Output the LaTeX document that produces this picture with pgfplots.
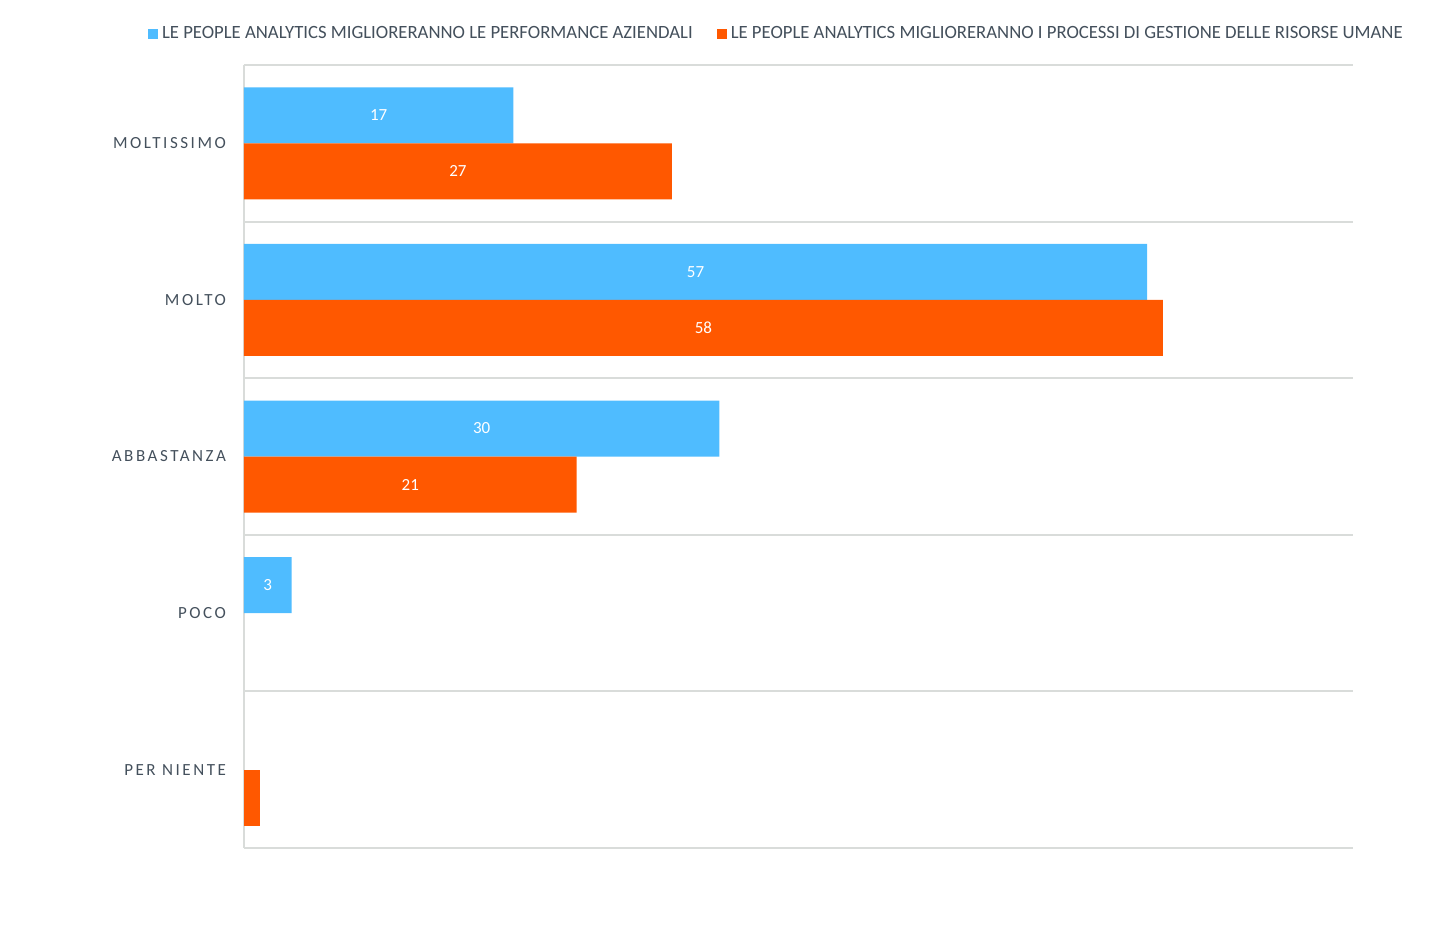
\documentclass[border=0pt]{standalone}
\usepackage{pgfplots}
\pgfplotsset{compat=1.18}
\usepackage{fontspec}
\setmainfont{Carlito}
\newfontfamily\spaced[LetterSpace=15]{Carlito}
\definecolor{cblue}{HTML}{4FBCFF}
\definecolor{corange}{HTML}{FF5800}
\definecolor{ctext}{HTML}{44505C}
\definecolor{cgrid}{HTML}{D9DCDA}
\begin{document}
\begin{tikzpicture}[x=0.5pt,y=0.5pt]
\path[use as bounding box] (-244,-82) rectangle (1190,848);
\begin{axis}[
  at={(0,0)}, anchor=south west,
  scale only axis, width=554.5pt, height=391.5pt,
  xbar, bar width=28pt,
  xmin=0, xmax=70,
  ymin=-0.5, ymax=4.5, y dir=reverse,
  ytick={0,1,2,3,4},
  yticklabels={MOLTISSIMO,MOLTO,ABBASTANZA,POCO,PER\ NIENTE},
  yticklabel style={font=\spaced\fontsize{8.5}{10}\selectfont, text=ctext, xshift=-5.5pt},
  xtick=\empty,
  extra x ticks={0}, extra x tick labels={},
  extra x tick style={grid=major, major grid style={cgrid, line width=1pt}, major tick length=0pt},
  minor ytick={-0.5,0.5,1.5,2.5,3.5,4.5},
  yminorgrids, minor grid style={cgrid, line width=1pt},
  major tick length=0pt, minor tick length=0pt,
  axis line style={draw=none},
  clip=false,
  /pgf/number format/assume math mode=true,
  visualization depends on=x \as \xval,
  nodes near coords,
  every node near coord/.append style={anchor=center, text=white, font=\fontsize{8.5}{10}\selectfont,
    shift={(axis direction cs:-\xval/2,0)}},
  legend style={at={(0.481,1.0396)}, anchor=center, draw=none, legend columns=2,
    font=\fontsize{9.35}{11}\selectfont, text=ctext,
    /tikz/every even column/.append style={column sep=10pt}},
  legend image code/.code={\fill[#1] (0pt,-2.5pt) rectangle (5pt,2.5pt);},
]
\addplot[fill=cblue, draw=none, bar shift=14pt] coordinates {(17,0) (57,1) (30,2) (3,3)};
\addlegendentry{LE PEOPLE ANALYTICS MIGLIORERANNO LE PERFORMANCE AZIENDALI}
\addplot[fill=corange, draw=none, bar shift=-14pt] coordinates {(27,0) (58,1) (21,2)};
\addlegendentry{LE PEOPLE ANALYTICS MIGLIORERANNO I PROCESSI DI GESTIONE DELLE RISORSE UMANE}
\addplot[fill=corange, draw=none, bar shift=-14pt, nodes near coords=\relax, forget plot] coordinates {(1,4)};
\end{axis}
\end{tikzpicture}
\end{document}
